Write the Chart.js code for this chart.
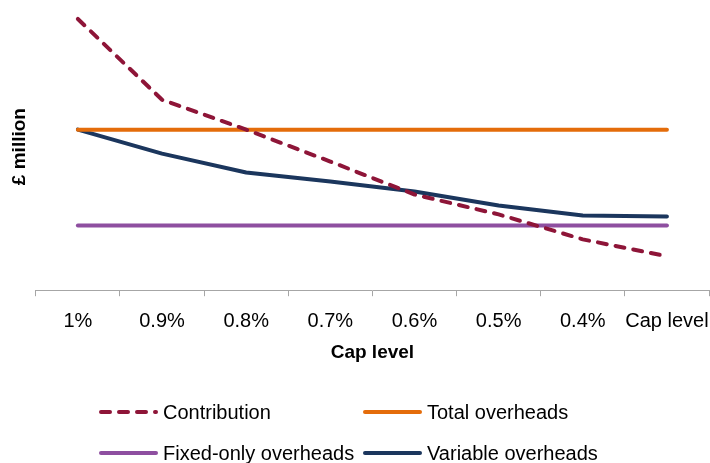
<!DOCTYPE html>
<html>
<head>
<meta charset="utf-8">
<script src="https://cdn.jsdelivr.net/npm/chart.js@4.4.1/dist/chart.umd.min.js"></script>
<style>
  html, body { margin: 0; padding: 0; background: #ffffff; }
  #wrap { width: 710px; height: 463px; position: relative; }
</style>
</head>
<body>
<div id="wrap"><canvas id="c" width="710" height="463"></canvas></div>
<script>
// Cap levels along the x axis
const categories = ['1%', '0.9%', '0.8%', '0.7%', '0.6%', '0.5%', '0.4%', 'Cap level'];

// Series values (£ million, relative units)
const contribution       = [272, 191, 161, 129, 96, 76, 51, 34];
const totalOverheads     = [161, 161, 161, 161, 161, 161, 161, 161];
const fixedOnlyOverheads = [65, 65, 65, 65, 65, 65, 65, 65];
const variableOverheads  = [161, 137, 118, 109, 99, 85, 75, 74];

const FONT = "'Liberation Sans', Arial, sans-serif";

// Two-column legend drawn beneath the axis title
const gridLegend = {
  id: 'gridLegend',
  afterDraw(chart) {
    const ctx = chart.ctx;
    const cols = [99, 363];
    const rows = [412, 453];
    const sampleLen = 59;
    ctx.save();
    chart.data.datasets.forEach((ds, i) => {
      const x = cols[i % 2];
      const y = rows[Math.floor(i / 2)];
      ctx.beginPath();
      ctx.strokeStyle = ds.borderColor;
      ctx.lineWidth = ds.borderWidth;
      ctx.lineCap = 'round';
      ctx.setLineDash(ds.borderDash || []);
      ctx.moveTo(x + 2, y);
      ctx.lineTo(x + sampleLen - 2, y);
      ctx.stroke();
      ctx.setLineDash([]);
      ctx.fillStyle = '#000000';
      ctx.font = '20px ' + FONT;
      ctx.textBaseline = 'middle';
      ctx.textAlign = 'left';
      ctx.fillText(ds.label, x + sampleLen + 5, y + 1);
    });
    ctx.restore();
  }
};

new Chart(document.getElementById('c'), {
  type: 'line',
  data: {
    labels: categories,
    datasets: [
      {
        label: 'Contribution',
        data: contribution,
        borderColor: '#8E1538',
        borderWidth: 4,
        borderDash: [9, 9],
        borderCapStyle: 'round',
        pointRadius: 0,
        tension: 0,
        fill: false
      },
      {
        label: 'Total overheads',
        data: totalOverheads,
        borderColor: '#E46C0A',
        borderWidth: 4,
        borderCapStyle: 'round',
        pointRadius: 0,
        tension: 0,
        fill: false
      },
      {
        label: 'Fixed-only overheads',
        data: fixedOnlyOverheads,
        borderColor: '#8E4FA0',
        borderWidth: 4,
        borderCapStyle: 'round',
        pointRadius: 0,
        tension: 0,
        fill: false
      },
      {
        label: 'Variable overheads',
        data: variableOverheads,
        borderColor: '#1B365D',
        borderWidth: 4,
        borderCapStyle: 'round',
        borderJoinStyle: 'round',
        pointRadius: 0,
        tension: 0,
        fill: false
      }
    ]
  },
  options: {
    responsive: false,
    animation: false,
    layout: { padding: { top: 3, right: 1, left: 0, bottom: 99 } },
    plugins: {
      legend: { display: false },
      tooltip: { enabled: false }
    },
    scales: {
      x: {
        type: 'category',
        offset: true,
        afterFit(scale) {
          scale.paddingLeft = 0;
          scale.paddingRight = 0;
        },
        border: { display: true, color: '#A6A6A6', width: 1 },
        grid: {
          display: true,
          offset: true,
          drawOnChartArea: false,
          drawTicks: true,
          tickLength: 6,
          color: '#A6A6A6'
        },
        ticks: {
          color: '#000000',
          font: { family: FONT, size: 20 },
          padding: 13,
          maxRotation: 0,
          autoSkip: false
        },
        title: {
          display: true,
          text: 'Cap level',
          color: '#000000',
          font: { family: FONT, size: 19, weight: 'bold' },
          padding: { top: -5, bottom: 0 }
        }
      },
      y: {
        min: 0,
        max: 288,
        border: { display: false },
        grid: { display: false, drawTicks: false },
        ticks: { display: false },
        title: {
          display: true,
          text: '£ million',
          color: '#000000',
          font: { family: FONT, size: 19, weight: 'bold' },
          padding: { top: 8, bottom: 5 }
        }
      }
    }
  },
  plugins: [gridLegend]
});
</script>
</body>
</html>
